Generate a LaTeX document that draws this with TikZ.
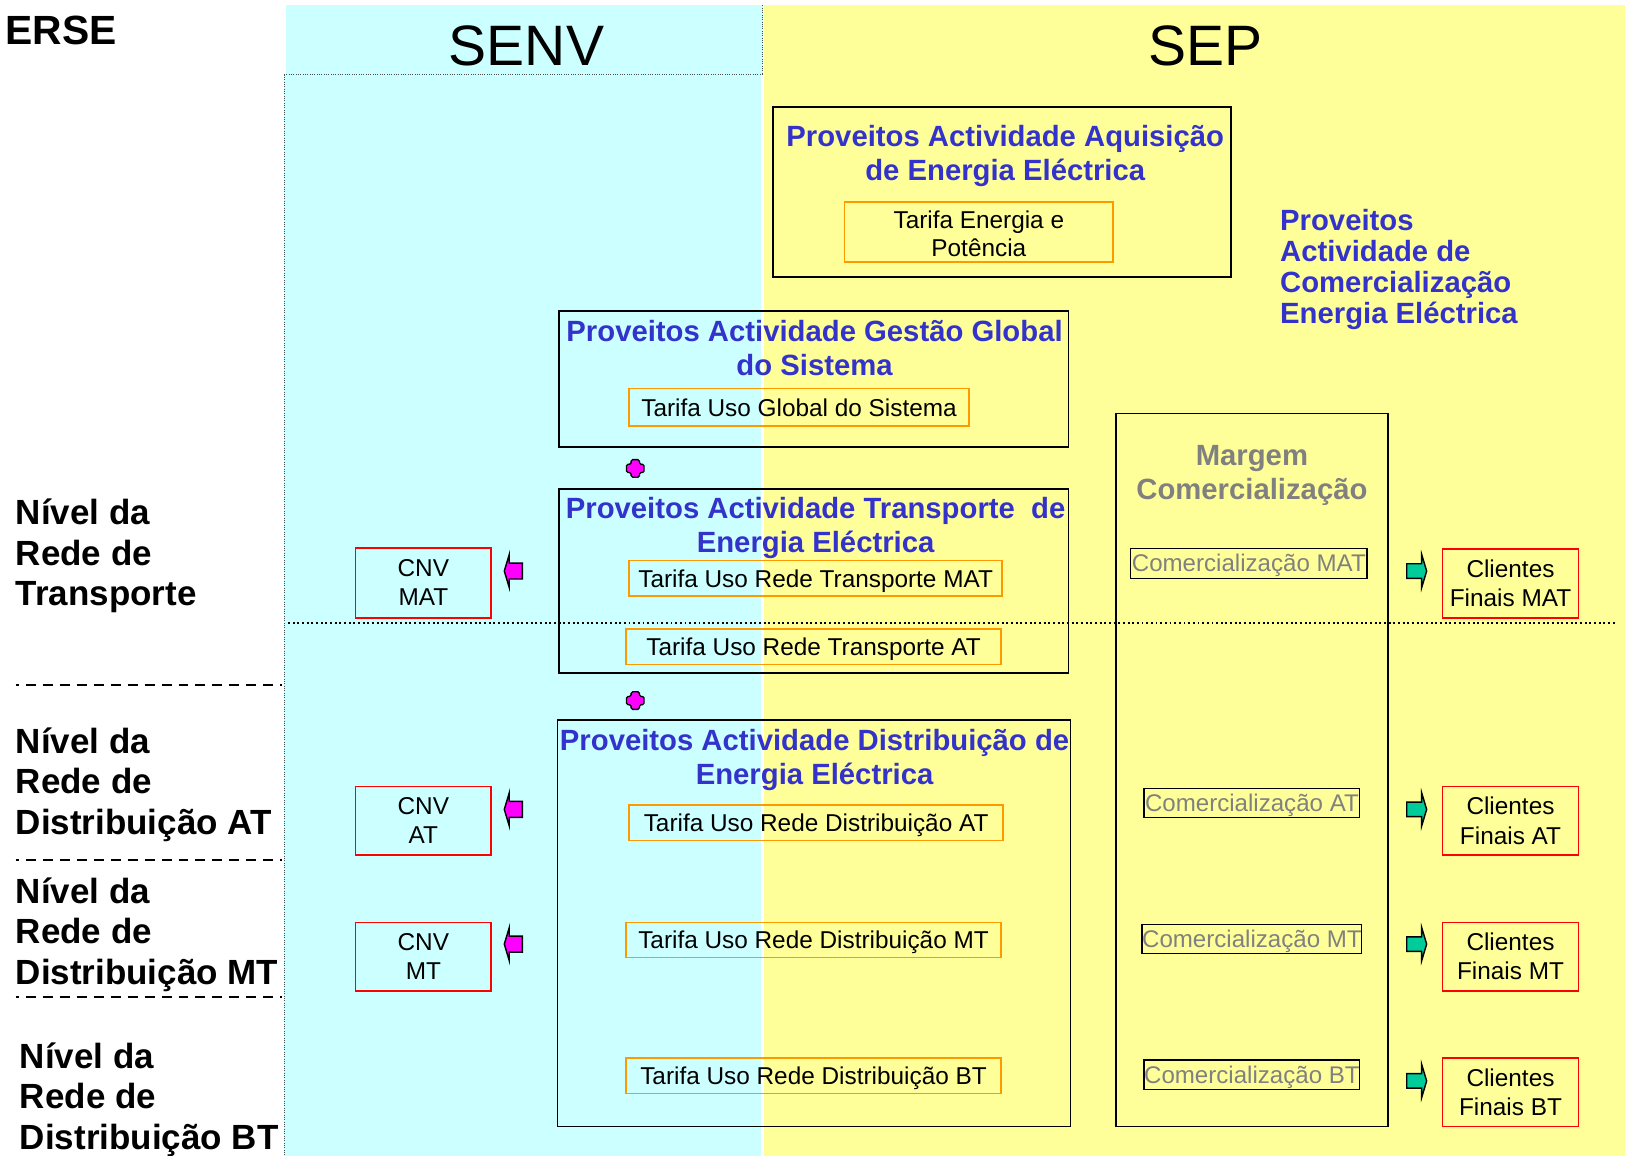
\documentclass[tikz,border=0pt]{standalone}
\usepackage{fontspec}
\setmainfont{Liberation Sans}
\definecolor{senvbg}{HTML}{CCFFFF}
\definecolor{sepbg}{HTML}{FFFF99}
\definecolor{titleblue}{HTML}{3333CC}
\definecolor{greytext}{HTML}{808080}
\definecolor{orangeline}{HTML}{FF9900}
\definecolor{redline}{HTML}{FF0000}
\definecolor{pinkfill}{HTML}{FF00FF}
\definecolor{greenfill}{HTML}{00CC99}
\begin{document}
\begin{tikzpicture}[x=0.8pt,y=-0.8pt,
  sz/.style 2 args={minimum width=#1*0.8pt, minimum height=#2*0.8pt},
  frame/.style={draw=black, line width=1.4pt, inner sep=0pt, outer sep=0pt},
  tarif/.style={draw=orangeline, line width=1.2pt, inner sep=0pt, align=center,
    font=\fontsize{18.8}{22}\selectfont},
  oneline/.style={text depth=0pt},
  redbox/.style={draw=redline, line width=1.3pt, inner sep=0pt, align=center,
    font=\fontsize{18.8}{22.4}\selectfont},
  comm/.style={draw=black, line width=1.1pt, inner sep=0pt, text=greytext, text depth=0pt,
    font=\fontsize{18.6}{21}\selectfont},
  ptitle/.style={text=titleblue, inner sep=0pt, align=center,
    font=\bfseries\fontsize{22.6}{26.4}\selectfont},
  level/.style={anchor=west, inner sep=0pt, align=left,
    font=\bfseries\fontsize{27}{31.2}\selectfont},
  thindot/.style={draw=black!70, line width=0.6pt, dash pattern=on 0.6pt off 1.2pt},
  leveldash/.style={line width=2pt, dash pattern=on 7.7pt off 5.4pt, dash phase=5.2pt},
  rowdot/.style={line width=1.5pt, dash pattern=on 1.5pt off 2.1pt},
  pics/leftarrow/.style={code={
    \draw[fill=pinkfill, line width=1.1pt, line join=miter]
      (-8.7,0) -- (-3.9,-16) -- (-3.9,-7.7) -- (8.7,-7.7) -- (8.7,7.7)
      -- (-3.9,7.7) -- (-3.9,16) -- cycle;}},
  pics/rightarrow/.style={code={
    \draw[fill=greenfill, line width=1.1pt, line join=miter]
      (9.6,0) -- (4.8,-16) -- (4.8,-7) -- (-9.6,-7) -- (-9.6,7)
      -- (4.8,7) -- (4.8,16) -- cycle;}},
  pics/plussign/.style={code={
    \draw[fill=pinkfill, line width=1pt, rounded corners=1.2pt]
      (-4,-8.5) -- (4,-8.5) -- (4,-4) -- (8.5,-4) -- (8.5,4) -- (4,4)
      -- (4,8.5) -- (-4,8.5) -- (-4,4) -- (-8.5,4) -- (-8.5,-4) -- (-4,-4) -- cycle;}}
]
\useasboundingbox (0,0) rectangle (1568,1115);

% background columns
\fill[senvbg] (276,5) rectangle (736,72);
\fill[senvbg] (274,72) rectangle (734,1115);
\fill[sepbg] (737,5) rectangle (1568,1115);
\draw[thindot] (274,72) -- (736,72);
\draw[thindot] (736,5) -- (736,72);
\draw[thindot] (274,72) -- (274,1115);

% headings
\node[anchor=west, inner sep=0pt, font=\bfseries\fontsize{31.5}{36}\selectfont] (erse) at (5,29) {ERSE};
\node[inner sep=0pt, font=\fontsize{44}{50}\selectfont] (senv) at (508,44) {SENV};
\node[inner sep=0pt, font=\fontsize{44}{50}\selectfont] (sep) at (1163,44) {SEP};

% voltage levels
\node[level] (lvMAT) at (15,536.5) {Nível da\\Rede de\\Transporte};
\node[level] (lvAT) at (15,757) {Nível da\\Rede de\\Distribuição AT};
\node[level] (lvMT) at (15,902) {Nível da\\Rede de\\Distribuição MT};
\node[level] (lvBT) at (19,1061) {Nível da\\Rede de\\Distribuição BT};
\draw[leveldash] (15,661) -- (272,661);
\draw[leveldash] (15,830) -- (272,830);
\draw[leveldash] (15,962) -- (272,962);
\draw[rowdot] (278,601) -- (1558,601);

% acquisition of energy
\node[frame, sz={442}{164}] (aqBox) at (967,185) {};
\node[ptitle] (aqTitle) at (970,150.5) {Proveitos Actividade Aquisição\\de Energia Eléctrica};
\node[tarif, sz={259}{58}] (aqTarif) at (944.5,224) {};
\node[inner sep=0pt, align=center, font=\fontsize{18.8}{21.6}\selectfont] (aqTarifText) at (944.5,226) {Tarifa Energia e\\Potência};

% commercialisation title
\node[anchor=west, text=titleblue, inner sep=0pt, align=left,
  font=\bfseries\fontsize{22.6}{24}\selectfont] (comTitle) at (1235,260)
  {Proveitos\\Actividade de\\Comercialização\\Energia Eléctrica};

% global system management
\node[frame, sz={492}{131}] (ggsBox) at (785,365.5) {};
\node[ptitle] (ggsTitle) at (786,336) {Proveitos Actividade Gestão Global\\do Sistema};
\node[tarif, oneline, sz={328}{36}] (ggsTarif) at (771,393) {Tarifa Uso Global do Sistema};

% transport
\node[frame, sz={492}{177}] (trBox) at (785,560.5) {};
\node[ptitle] (trTitle) at (787,509.5) {Proveitos Actividade Transporte\ \ de\\Energia Eléctrica};
\node[tarif, oneline, sz={360}{34}] (trMAT) at (787,558) {Tarifa Uso Rede Transporte MAT};
\node[tarif, oneline, sz={362}{34}] (trAT) at (785,624) {Tarifa Uso Rede Transporte AT};

% distribution
\node[frame, sz={495}{392}] (dsBox) at (785.5,891) {};
\node[ptitle] (dsTitle) at (786,733.5) {Proveitos Actividade Distribuição de\\Energia Eléctrica};
\node[tarif, oneline, sz={361}{34}] (dsAT) at (787.5,794) {Tarifa Uso Rede Distribuição AT};
\node[tarif, oneline, sz={362}{34}] (dsMT) at (785,907) {Tarifa Uso Rede Distribuição MT};
\node[tarif, oneline, sz={362}{34}] (dsBT) at (785,1038) {Tarifa Uso Rede Distribuição BT};

% plus signs between activities
\pic at (613,452) {plussign};
\pic at (613,676) {plussign};

% commercial margin
\node[frame, sz={262}{688}] (mcBox) at (1208,743) {};
\node[text=greytext, inner sep=0pt, align=center,
  font=\bfseries\fontsize{22.6}{26.4}\selectfont] (mcTitle) at (1208,458.5) {Margem\\Comercialização};
\node[comm, sz={228}{29}] (mcMAT) at (1205,543.5) {Comercialização MAT};
\node[comm, sz={208}{28}] (mcAT) at (1208,775) {Comercialização AT};
\node[comm, sz={212}{28}] (mcMT) at (1208,906) {Comercialização MT};
\node[comm, sz={208}{28}] (mcBT) at (1208,1037) {Comercialização BT};

% tariff customers of the network operators
\node[redbox, sz={131}{67}] (cnvMAT) at (408.5,562.5) {CNV\\MAT};
\node[redbox, sz={131}{66}] (cnvAT) at (408.5,792) {CNV\\AT};
\node[redbox, sz={131}{66}] (cnvMT) at (408.5,923) {CNV\\MT};
\pic at (495.3,551) {leftarrow};
\pic at (495.3,781) {leftarrow};
\pic at (495.3,911) {leftarrow};

% final customers
\node[redbox, sz={131}{66}] (cfMAT) at (1457.5,563) {Clientes\\Finais MAT};
\node[redbox, sz={131}{66}] (cfAT) at (1457.5,792) {Clientes\\Finais AT};
\node[redbox, sz={131}{66}] (cfMT) at (1457.5,923) {Clientes\\Finais MT};
\node[redbox, sz={131}{66}] (cfBT) at (1457.5,1054) {Clientes\\Finais BT};
\pic at (1367,551) {rightarrow};
\pic at (1367,781) {rightarrow};
\pic at (1367,911) {rightarrow};
\pic at (1367,1043) {rightarrow};
\end{tikzpicture}
\end{document}
